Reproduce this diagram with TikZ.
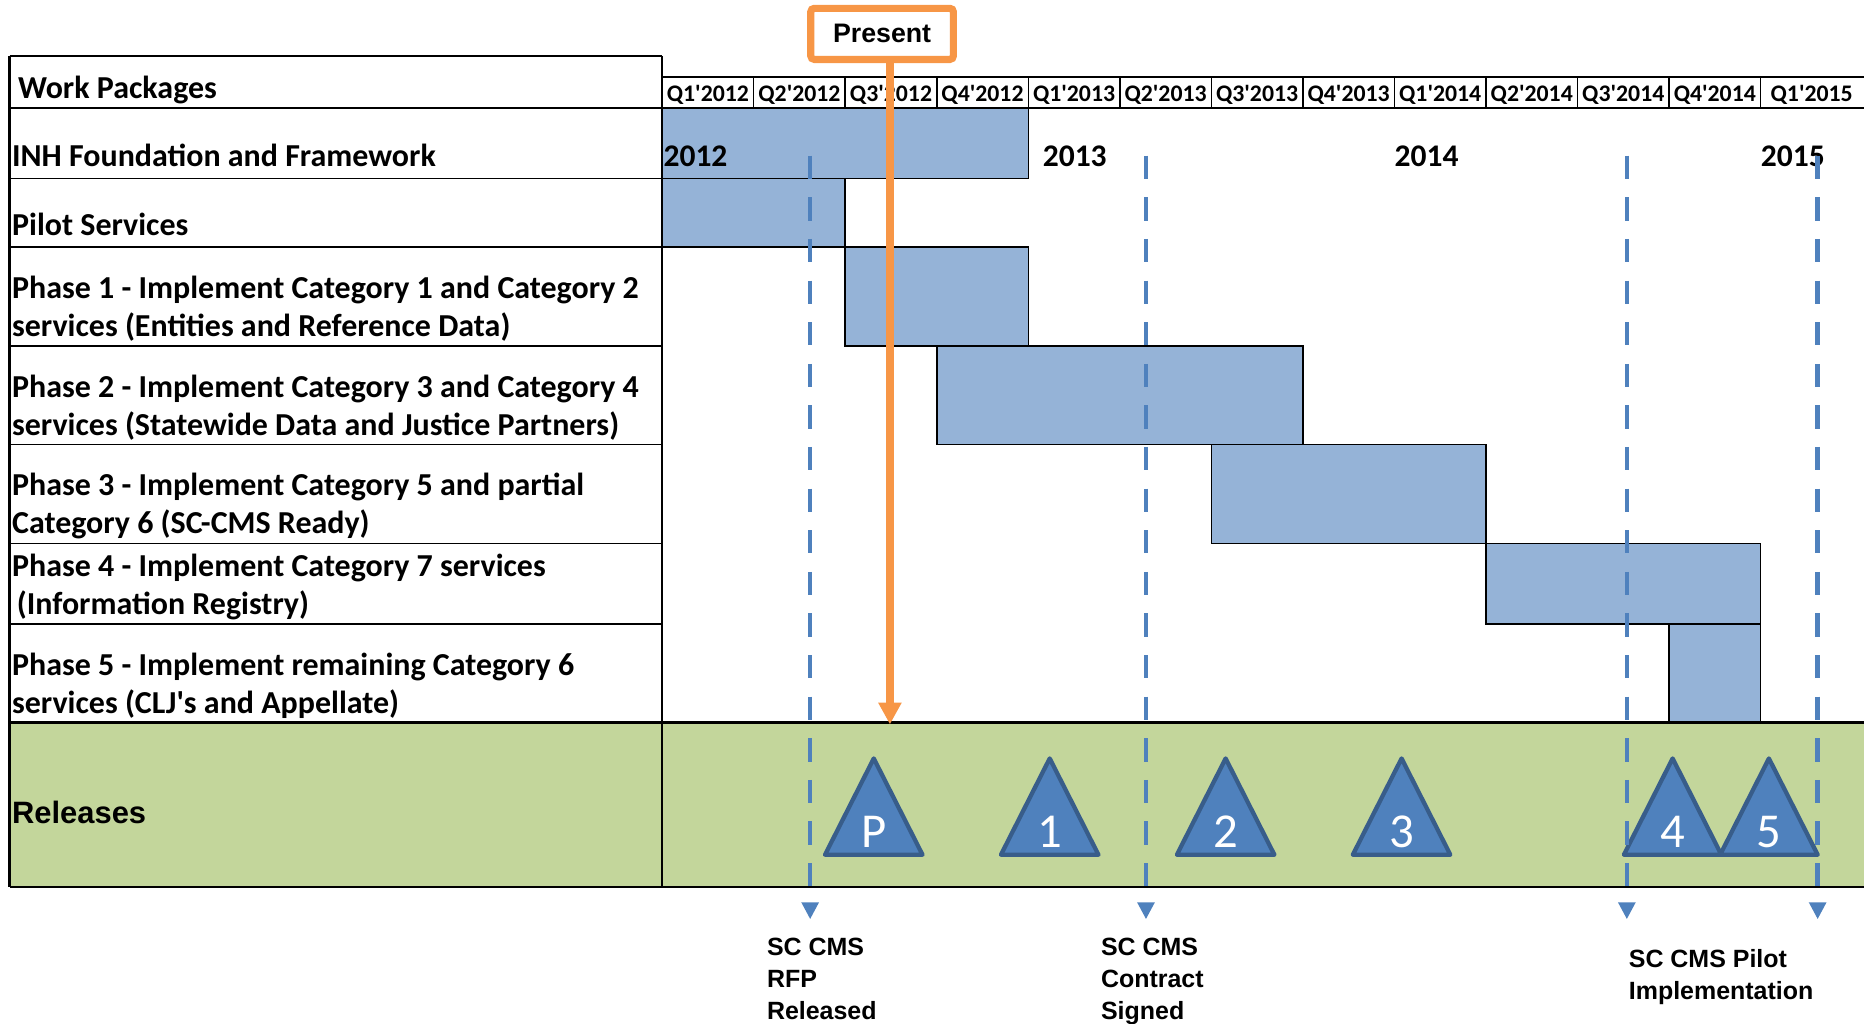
\documentclass[tikz,border=0pt]{standalone}
\usepackage{fontspec}
\setmainfont{Carlito}
\newfontfamily\arialfont{Liberation Sans}
\usetikzlibrary{arrows.meta}

\definecolor{barblue}{HTML}{95B3D7}
\definecolor{relgreen}{HTML}{C3D69B}
\definecolor{accblue}{HTML}{4F81BD}
\definecolor{darkblue}{HTML}{385D8A}
\definecolor{presorange}{HTML}{F79646}

\newcommand{\qlab}[2]{Q#1\textquotesingle#2}

\begin{document}
\begin{tikzpicture}[x=1pt,y=-1pt,
  bar/.style={fill=barblue,draw=black,line width=1.3pt},
  gridline/.style={draw=black,line width=1.3pt},
  frameline/.style={draw=black,line width=2.2pt},
  rowtext/.style={anchor=base west,inner sep=0pt,align=left,
    font=\fontsize{26.9}{32}\selectfont\bfseries},
  qtext/.style={anchor=base,inner sep=0pt,
    font=\fontsize{20}{24}\selectfont\bfseries},
  yeartext/.style={anchor=base west,inner sep=0pt,
    font=\fontsize{26.5}{32}\selectfont\bfseries},
  reltri/.style={fill=accblue,draw=darkblue,line width=3.6pt,line join=round},
  relnum/.style={inner sep=0pt,anchor=base,text=white,
    font=\fontsize{41}{48}\selectfont},
  milestone/.style={draw=accblue,line width=3.9pt,
    dash pattern=on 19.6pt off 15.4pt,
    -{Triangle[width=15pt,length=14pt,line width=0pt]}},
  msnote/.style={anchor=base west,inner sep=0pt,align=left,
    font=\arialfont\bfseries\fontsize{21}{27}\selectfont},
  presbox/.style={draw=presorange,line width=6pt,fill=white,rounded corners=3pt,
    minimum width=120pt,minimum height=43pt,inner sep=0pt,
    font=\arialfont\bfseries\fontsize{22.5}{27}\selectfont},
  presline/.style={draw=presorange,line width=6.7pt,
    -{Triangle[width=20pt,length=18pt,line width=0pt]}}
]
\useasboundingbox (0,0) rectangle (1568,861);

% releases band
\fill[relgreen] (8,608) rectangle (1568,746);

% work package bars
\draw[bar] (557,91)  rectangle (865,150);
\draw[bar] (557,150) rectangle (711,208);
\draw[bar] (711,208) rectangle (865,291);
\draw[bar] (788,291) rectangle (1096,374);
\draw[bar] (1019,374) rectangle (1250,457);
\draw[bar] (1250,457) rectangle (1481,525);
\draw[bar] (1404,525) rectangle (1481,608);

% quarter header row
\draw[gridline] (557,65) -- (1568,65);
\foreach \k in {1,...,12} {
  \draw[gridline] ({557+77*\k},65) -- ({557+77*\k},91);
}
\foreach \q/\yr/\k in {1/2012/0,2/2012/1,3/2012/2,4/2012/3,
                       1/2013/4,2/2013/5,3/2013/6,4/2013/7,
                       1/2014/8,2/2014/9,3/2014/10,4/2014/11} {
  \node[qtext] (q\k) at ({557+77*\k+38.5},85.5) {\qlab{\q}{\yr}};
}
\node[qtext] (q12) at (1524,85.5) {\qlab{1}{2015}};

% left column grid
\foreach \yy in {150,208,291,374,457,525} {
  \draw[gridline] (8,\yy) -- (557,\yy);
}
\draw[frameline] (8,91) -- (1568,91);
\draw[frameline] (8,608) -- (1568,608);
\draw[frameline] (8,746) -- (1568,746);
\draw[frameline] (8,47) -- (557,47);
\draw[frameline] (8,47) -- (8,746);
\draw[gridline] (557,47) -- (557,746);

% row labels (base anchor sits on the last line)
\node[rowtext] (hdr) at (15,83) {Work Packages};
\node[rowtext] (wp0) at (10,140) {INH Foundation and Framework};
\node[rowtext] (wp1) at (10,198) {Pilot Services};
\node[rowtext] (wp2) at (10,283) {Phase 1 - Implement Category 1 and Category 2\\services (Entities and Reference Data)};
\node[rowtext] (wp3) at (10,366) {Phase 2 - Implement Category 3 and Category 4\\services (Statewide Data and Justice Partners)};
\node[rowtext] (wp4) at (10,449) {Phase 3 - Implement Category 5 and partial\\Category 6 (SC-CMS Ready)};
\node[rowtext] (wp5) at (10,517) {Phase 4 - Implement Category 7 services\\\hspace{4pt}(Information Registry)};
\node[rowtext] (wp6) at (10,600) {Phase 5 - Implement remaining Category 6\\services (CLJ\textquotesingle s and Appellate)};
\node[anchor=base west,inner sep=0pt,font=\arialfont\bfseries\fontsize{26}{31}\selectfont]
  (rel) at (10,693) {Releases};

% year labels
\node[yeartext] (y12) at (558,140) {2012};
\node[yeartext] (y13) at (877,140) {2013};
\node[yeartext] (y14) at (1173,140) {2014};
\node[yeartext] (y15) at (1481,140) {2015};

% release triangles
\foreach \cx/\lab/\nm in {735/P/rP,883/1/r1,1031/2/r2,1179/3/r3,1407/4/r4,1488/5/r5} {
  \draw[reltri] (\cx,638) -- ({\cx+41},719) -- ({\cx-41},719) -- cycle;
  \node[relnum] (\nm) at (\cx,713) {\lab};
}

% milestone markers
\foreach \mx/\nm in {681.5/mA,964/mB,1368.5/mC,1529/mD} {
  \coordinate (\nm top) at (\mx,131);
  \coordinate (\nm end) at (\mx,773);
  \draw[milestone] (\nm top) -- (\nm end);
}
\node[msnote] (nA) at (645,858) {SC CMS\\RFP\\Released};
\node[msnote] (nB) at (926,858) {SC CMS\\Contract\\Signed};
\node[msnote] (nC) at (1370,840.5) {SC CMS Pilot\\Implementation};

% present marker
\node[presbox] (present) at (742,28.5) {Present};
\coordinate (ptip) at (748.6,609);
\draw[presline] (present.south -| ptip) -- (ptip);
\end{tikzpicture}
\end{document}
